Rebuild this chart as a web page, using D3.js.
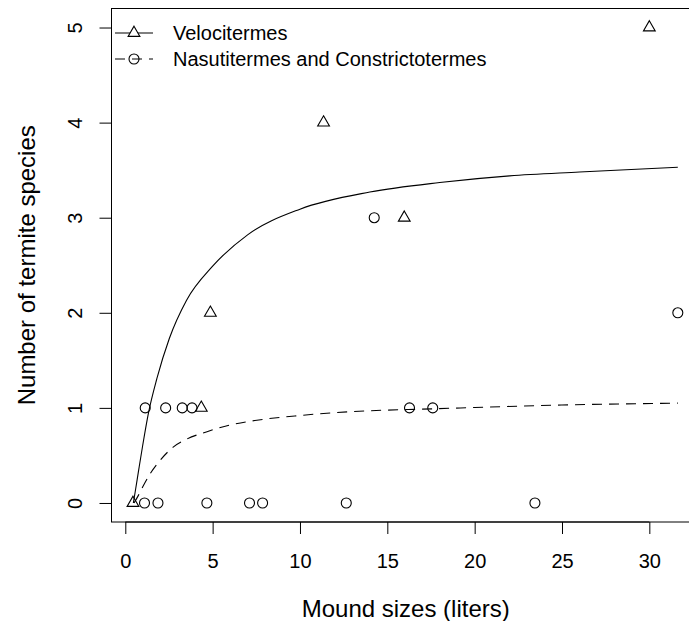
<!DOCTYPE html>
<html><head><meta charset="utf-8">
<script src="https://cdn.jsdelivr.net/npm/d3@7"></script>
<style>body{margin:0;background:#fff;}svg{display:block;font-family:"Liberation Sans",Arial,sans-serif;}</style>
</head><body>
<svg id="c" width="689" height="621"></svg>
<script>
// Observed points
const velX = [0.44, 4.35, 4.87, 11.35, 15.97, 30.0];
const velY = [0, 1, 2, 4, 3, 5];
const nasX = [1.10, 1.87, 4.67, 7.11, 7.86, 12.65, 23.45, 1.14, 2.31, 3.26, 3.82, 16.27, 17.6, 14.25, 31.63];
const nasY = [0, 0, 0, 0, 0, 0, 0, 1, 1, 1, 1, 1, 1, 3, 2];
// Fitted curves
const velFitX = [0.46, 0.56, 0.76, 1.0, 1.33, 1.81, 2.52, 3.5, 5, 7, 10, 14, 18, 22, 26, 31.63];
const velFitY = [0, 0.11, 0.34, 0.61, 0.95, 1.31, 1.73, 2.13, 2.49, 2.82, 3.09, 3.27, 3.37, 3.44, 3.48, 3.53];
const nasFitX = [0.5, 0.75, 1.0, 1.43, 2.0, 2.76, 3.5, 4.68, 6, 7.53, 10, 12.9, 17.6, 25, 31.63];
const nasFitY = [0, 0.08, 0.17, 0.31, 0.45, 0.59, 0.67, 0.75, 0.82, 0.87, 0.92, 0.96, 0.99, 1.03, 1.05];
const xTicks = [0, 5, 10, 15, 20, 25, 30];
const yTicks = [0, 1, 2, 3, 4, 5];
const legendLabels = ["Velocitermes", "Nasutitermes and Constrictotermes"];
const xTitle = "Mound sizes (liters)";
const yTitle = "Number of termite species";

const svg = d3.select("#c");
const L = 111.5, R = 700, T = 8.5, B = 522;
const x = d3.scaleLinear().domain([-0.79, 32.9]).range([L, R]);
const y = d3.scaleLinear().domain([-0.2, 5.2]).range([B, T]);
const FS = 20, FT = 24;

// box
svg.append("rect").attr("x", L).attr("y", T).attr("width", R - L).attr("height", B - T)
  .attr("fill", "none").attr("stroke", "#000").attr("stroke-width", 1);

// x axis
const xa = svg.append("g").attr("transform", `translate(0,${B})`)
  .call(d3.axisBottom(x).tickValues(xTicks).tickSize(12).tickPadding(20).tickFormat(d3.format("d")));
xa.selectAll("text").attr("font-size", FS).attr("font-family", "Liberation Sans, Arial, sans-serif").attr("fill", "#000");
xa.selectAll("line,path").attr("stroke", "#000");
xa.select(".domain").attr("d", `M${x(0)},0V0H${x(30)}V0`);

// y axis
const ya = svg.append("g").attr("transform", `translate(${L},0)`)
  .call(d3.axisLeft(y).tickValues(yTicks).tickSize(12).tickFormat(d3.format("d")));
ya.selectAll("line,path").attr("stroke", "#000");
ya.select(".domain").attr("d", `M0,${y(0)}H0V${y(5)}H0`);
ya.selectAll(".tick text").attr("font-size", FS).attr("font-family", "Liberation Sans, Arial, sans-serif").attr("fill", "#000")
  .attr("x", 0).attr("dy", 0).attr("text-anchor", "middle")
  .attr("transform", "translate(-30,0) rotate(-90)");

// titles
svg.append("text").attr("x", (L + R) / 2).attr("y", 617).attr("text-anchor", "middle")
  .attr("font-size", FT).text(xTitle);
svg.append("text").attr("transform", `translate(35,${(T + B) / 2}) rotate(-90)`).attr("text-anchor", "middle")
  .attr("font-size", FT).text(yTitle);

// curves
const line = d3.line().x(d => x(d[0])).y(d => y(d[1])).curve(d3.curveMonotoneX);
svg.append("path").attr("d", line(d3.zip(velFitX, velFitY))).attr("fill", "none").attr("stroke", "#000").attr("stroke-width", 1.1);
svg.append("path").attr("d", line(d3.zip(nasFitX, nasFitY))).attr("fill", "none").attr("stroke", "#000").attr("stroke-width", 1.1)
  .attr("stroke-dasharray", "10,7");

// symbols
const triR = 6.8, cirR = 5;
function tri(cx, cy) {
  return `M${cx},${cy - triR}L${cx + triR * 0.866},${cy + triR / 2}L${cx - triR * 0.866},${cy + triR / 2}Z`;
}
svg.append("g").selectAll("path").data(d3.zip(velX, velY)).join("path")
  .attr("d", d => tri(x(d[0]), y(d[1]))).attr("fill", "none").attr("stroke", "#000").attr("stroke-width", 1.1);
svg.append("g").selectAll("circle").data(d3.zip(nasX, nasY)).join("circle")
  .attr("cx", d => x(d[0])).attr("cy", d => y(d[1])).attr("r", cirR)
  .attr("fill", "none").attr("stroke", "#000").attr("stroke-width", 1.1);

// legend
const lg = svg.append("g");
const rows = [33, 59];
lg.append("line").attr("x1", 115).attr("x2", 153).attr("y1", rows[0]).attr("y2", rows[0]).attr("stroke", "#000").attr("stroke-width", 1.1);
lg.append("path").attr("d", tri(134, rows[0])).attr("fill", "#fff").attr("stroke", "#000").attr("stroke-width", 1.1);
lg.append("line").attr("x1", 115).attr("x2", 153).attr("y1", rows[1]).attr("y2", rows[1]).attr("stroke", "#000").attr("stroke-width", 1.1)
  .attr("stroke-dasharray", "10,7");
lg.append("circle").attr("cx", 134).attr("cy", rows[1]).attr("r", cirR).attr("fill", "none").attr("stroke", "#000").attr("stroke-width", 1.1);
legendLabels.forEach((t, i) => {
  lg.append("text").attr("x", 173).attr("y", rows[i]).attr("dy", "0.36em").attr("font-size", FS).text(t);
});
</script>
</body></html>
